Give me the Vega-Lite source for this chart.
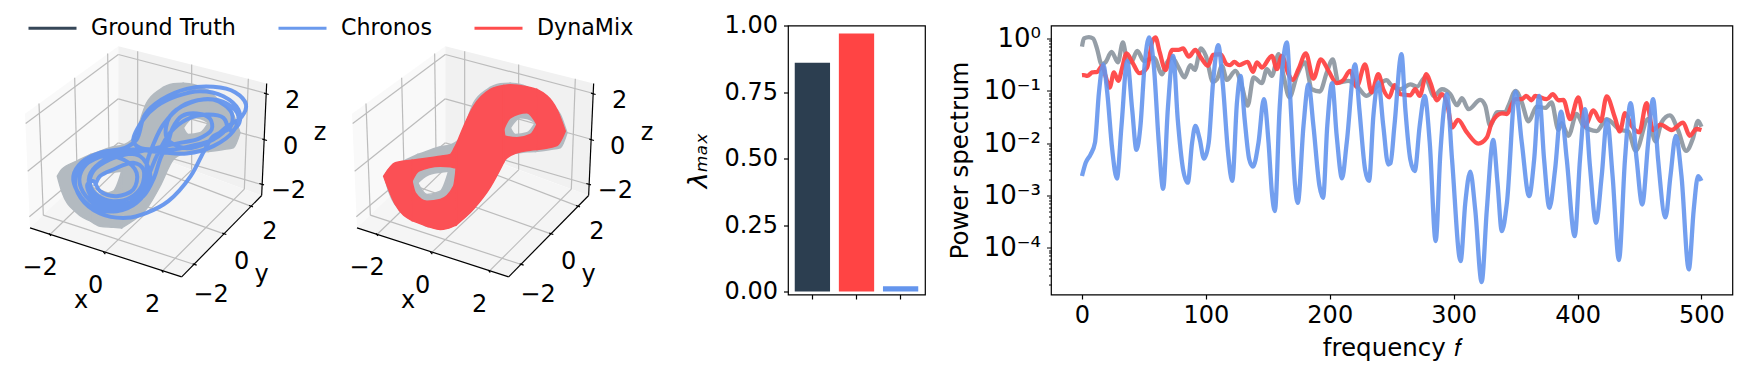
{"$schema":"https://vega.github.io/schema/vega-lite/v6.json","background":"white","padding":{"left":0,"top":2.5,"right":9,"bottom":5},"bounds":"flush","spacing":126,
"config":{"font":"DejaVu Sans","view":{"stroke":null},"axis":{"labelFont":"DejaVu Sans","titleFont":"DejaVu Sans","labelFontSize":24,"titleFontSize":24.5,"titleFontWeight":"normal","labelColor":"black","titleColor":"black","tickColor":"black","domainColor":"black","tickWidth":1.2,"domainWidth":1.2,"grid":false}},
"datasets":{
"panes":[{"pane":"left","u":75,"v":343,"v2":343},{"pane":"left","u":90,"v":332,"v2":685},{"pane":"left","u":355,"v":140,"v2":430},{"pane":"back","u":355,"v":140,"v2":430},{"pane":"back","u":785,"v":248,"v2":588},{"pane":"back","u":800,"v":252,"v2":252},{"pane":"floor","u":90,"v":685,"v2":685},{"pane":"floor","u":355,"v":430,"v2":771},{"pane":"floor","u":545,"v":500,"v2":832},{"pane":"floor","u":785,"v":588,"v2":588}],
"grid":[{"id":"a","u":355,"v":165},{"id":"a","u":800,"v":282},{"id":"b","u":355,"v":298},{"id":"b","u":795,"v":420},{"id":"c","u":355,"v":430},{"id":"c","u":785,"v":555},{"id":"d","u":355,"v":165},{"id":"d","u":77,"v":372},{"id":"e","u":355,"v":298},{"id":"e","u":83,"v":515},{"id":"f","u":355,"v":430},{"id":"f","u":88,"v":652},{"id":"g","u":117,"v":312},{"id":"g","u":130,"v":647},{"id":"h","u":224,"v":235},{"id":"h","u":232,"v":548},{"id":"i","u":323,"v":162},{"id":"i","u":327,"v":457},{"id":"j","u":413,"v":155},{"id":"j","u":413,"v":451},{"id":"k","u":575,"v":195},{"id":"k","u":575,"v":511},{"id":"l","u":745,"v":238},{"id":"l","u":733,"v":569},{"id":"m","u":413,"v":451},{"id":"m","u":150,"v":705},{"id":"n","u":575,"v":511},{"id":"n","u":313,"v":760},{"id":"o","u":733,"v":569},{"id":"o","u":487,"v":815},{"id":"p","u":130,"v":647},{"id":"p","u":583,"v":795},{"id":"q","u":232,"v":548},{"id":"q","u":672,"v":703},{"id":"r","u":327,"v":457},{"id":"r","u":752,"v":620}],
"edges":[{"id":"x","u":90,"v":685},{"id":"x","u":545,"v":832},{"id":"y","u":545,"v":832},{"id":"y","u":785,"v":588},{"id":"z","u":800,"v":252},{"id":"z","u":785,"v":588},{"id":"t1","u":147,"v":702},{"id":"t1","u":153,"v":709},{"id":"t2","u":310,"v":757},{"id":"t2","u":316,"v":764},{"id":"t3","u":484,"v":812},{"id":"t3","u":490,"v":819},{"id":"t4","u":578,"v":793},{"id":"t4","u":590,"v":797},{"id":"t5","u":667,"v":701},{"id":"t5","u":679,"v":705},{"id":"t6","u":747,"v":618},{"id":"t6","u":759,"v":622},{"id":"t7","u":792,"v":281},{"id":"t7","u":806,"v":285},{"id":"t8","u":787,"v":419},{"id":"t8","u":801,"v":423},{"id":"t9","u":778,"v":552},{"id":"t9","u":792,"v":556}],
"labels":[{"u":120,"v":805,"text":"−2"},{"u":287,"v":860,"text":"0"},{"u":458,"v":917,"text":"2"},{"u":243,"v":905,"text":"x"},{"u":633,"v":885,"text":"−2"},{"u":725,"v":787,"text":"0"},{"u":810,"v":698,"text":"2"},{"u":785,"v":825,"text":"y"},{"u":865,"v":575,"text":"−2"},{"u":872,"v":443,"text":"0"},{"u":878,"v":305,"text":"2"},{"u":960,"v":400,"text":"z"}],
"attractor":[{"p":"a","u":172,"v":530,"v2":530},{"p":"a","u":185,"v":510,"v2":575},{"p":"a","u":230,"v":485,"v2":640},{"p":"a","u":272,"v":465,"v2":665},{"p":"b","u":272,"v":465,"v2":550},{"p":"b","u":300,"v":455,"v2":528},{"p":"b","u":340,"v":442,"v2":518},{"p":"b","u":365,"v":438,"v2":515},{"p":"c","u":272,"v":550,"v2":665},{"p":"c","u":300,"v":585,"v2":680},{"p":"c","u":340,"v":575,"v2":683},{"p":"c","u":365,"v":515,"v2":685},{"p":"d","u":365,"v":438,"v2":685},{"p":"d","u":400,"v":415,"v2":663},{"p":"d","u":440,"v":310,"v2":627},{"p":"d","u":480,"v":270,"v2":560},{"p":"d","u":520,"v":253,"v2":480},{"p":"d","u":550,"v":251,"v2":463},{"p":"e","u":550,"v":251,"v2":385},{"p":"e","u":580,"v":255,"v2":355},{"p":"e","u":600,"v":262,"v2":357},{"p":"e","u":625,"v":273,"v2":370},{"p":"f","u":550,"v":385,"v2":463},{"p":"f","u":565,"v":405,"v2":461},{"p":"f","u":600,"v":400,"v2":457},{"p":"f","u":625,"v":370,"v2":456},{"p":"g","u":625,"v":273,"v2":456},{"p":"g","u":670,"v":315,"v2":450},{"p":"g","u":700,"v":345,"v2":445},{"p":"g","u":720,"v":400,"v2":400}],
"dynamix3d":[{"p":"a","u":170,"v":530,"v2":530},{"p":"a","u":205,"v":490,"v2":615},{"p":"a","u":255,"v":482,"v2":663},{"p":"b","u":255,"v":482,"v2":545},{"p":"b","u":275,"v":479,"v2":515},{"p":"b","u":340,"v":470,"v2":500},{"p":"b","u":370,"v":465,"v2":502},{"p":"b","u":385,"v":440,"v2":505},{"p":"b","u":388,"v":435,"v2":505},{"p":"c","u":255,"v":545,"v2":663},{"p":"c","u":265,"v":580,"v2":667},{"p":"c","u":300,"v":605,"v2":680},{"p":"c","u":340,"v":600,"v2":690},{"p":"c","u":380,"v":560,"v2":680},{"p":"c","u":388,"v":505,"v2":676},{"p":"d","u":388,"v":435,"v2":676},{"p":"d","u":440,"v":320,"v2":628},{"p":"d","u":490,"v":270,"v2":563},{"p":"d","u":530,"v":258,"v2":489},{"p":"e","u":530,"v":258,"v2":390},{"p":"e","u":550,"v":256,"v2":355},{"p":"e","u":600,"v":262,"v2":340},{"p":"e","u":630,"v":270,"v2":375},{"p":"f","u":530,"v":390,"v2":489},{"p":"f","u":535,"v":410,"v2":480},{"p":"f","u":570,"v":415,"v2":460},{"p":"f","u":610,"v":405,"v2":452},{"p":"f","u":630,"v":375,"v2":450},{"p":"g","u":630,"v":270,"v2":450},{"p":"g","u":690,"v":330,"v2":438},{"p":"g","u":715,"v":395,"v2":395}],
"chronos3d":[{"t":1,"u":285,"v":560},{"t":2,"u":300,"v":530},{"t":3,"u":340,"v":510},{"t":4,"u":400,"v":490},{"t":5,"u":430,"v":510},{"t":6,"u":425,"v":560},{"t":7,"u":390,"v":595},{"t":8,"u":340,"v":605},{"t":9,"u":295,"v":590},{"t":10,"u":270,"v":555},{"t":11,"u":280,"v":515},{"t":12,"u":330,"v":480},{"t":13,"u":400,"v":460},{"t":14,"u":470,"v":445},{"t":15,"u":540,"v":430},{"t":16,"u":595,"v":418},{"t":17,"u":635,"v":390},{"t":18,"u":630,"v":358},{"t":19,"u":590,"v":342},{"t":20,"u":545,"v":350},{"t":21,"u":518,"v":385},{"t":22,"u":505,"v":425},{"t":23,"u":480,"v":480},{"t":24,"u":462,"v":535},{"t":25,"u":430,"v":590},{"t":26,"u":370,"v":625},{"t":27,"u":310,"v":625},{"t":28,"u":258,"v":590},{"t":29,"u":238,"v":540},{"t":30,"u":258,"v":495},{"t":31,"u":320,"v":465},{"t":32,"u":400,"v":450},{"t":33,"u":480,"v":458},{"t":34,"u":560,"v":462},{"t":35,"u":640,"v":440},{"t":36,"u":700,"v":395},{"t":37,"u":715,"v":350},{"t":38,"u":680,"v":312},{"t":39,"u":610,"v":300},{"t":40,"u":545,"v":320},{"t":41,"u":490,"v":375},{"t":42,"u":462,"v":430},{"t":43,"u":440,"v":495},{"t":44,"u":445,"v":555},{"t":45,"u":410,"v":610},{"t":46,"u":350,"v":635},{"t":47,"u":280,"v":625},{"t":48,"u":232,"v":575},{"t":49,"u":220,"v":530},{"t":50,"u":245,"v":488},{"t":51,"u":305,"v":458},{"t":52,"u":375,"v":445},{"t":53,"u":410,"v":420},{"t":54,"u":435,"v":345},{"t":55,"u":485,"v":300},{"t":56,"u":560,"v":268},{"t":57,"u":640,"v":262},{"t":58,"u":705,"v":278},{"t":59,"u":738,"v":315},{"t":60,"u":725,"v":352},{"t":61,"u":680,"v":382},{"t":62,"u":620,"v":430},{"t":63,"u":550,"v":445},{"t":64,"u":500,"v":415},{"t":65,"u":510,"v":350},{"t":66,"u":570,"v":310},{"t":67,"u":640,"v":300},{"t":68,"u":695,"v":340},{"t":69,"u":690,"v":385},{"t":70,"u":640,"v":410},{"t":71,"u":612,"v":455},{"t":72,"u":572,"v":530},{"t":73,"u":505,"v":605},{"t":74,"u":440,"v":640},{"t":75,"u":380,"v":655},{"t":76,"u":300,"v":642},{"t":77,"u":242,"v":595},{"t":78,"u":225,"v":540},{"t":79,"u":250,"v":495},{"t":80,"u":310,"v":470},{"t":81,"u":370,"v":480},{"t":82,"u":410,"v":520},{"t":83,"u":400,"v":570},{"t":84,"u":350,"v":590},{"t":85,"u":300,"v":575},{"t":86,"u":280,"v":545},{"t":87,"u":262,"v":555},{"t":88,"u":280,"v":600},{"t":89,"u":330,"v":622},{"t":90,"u":395,"v":610},{"t":91,"u":440,"v":570},{"t":92,"u":450,"v":520},{"t":93,"u":420,"v":470},{"t":94,"u":360,"v":465},{"t":95,"u":300,"v":490},{"t":96,"u":268,"v":530},{"t":97,"u":275,"v":575},{"t":98,"u":320,"v":612},{"t":99,"u":380,"v":612},{"t":100,"u":420,"v":585},{"t":101,"u":445,"v":530},{"t":102,"u":470,"v":470},{"t":103,"u":510,"v":400},{"t":104,"u":560,"v":360},{"t":105,"u":620,"v":345},{"t":106,"u":670,"v":355},{"t":107,"u":680,"v":385},{"t":108,"u":640,"v":420},{"t":109,"u":570,"v":440},{"t":110,"u":520,"v":450},{"t":111,"u":470,"v":450},{"t":112,"u":420,"v":445},{"t":113,"u":400,"v":425},{"t":114,"u":430,"v":360},{"t":115,"u":470,"v":320},{"t":116,"u":530,"v":290},{"t":117,"u":600,"v":275},{"t":118,"u":670,"v":290},{"t":119,"u":715,"v":330},{"t":120,"u":718,"v":370},{"t":121,"u":690,"v":400}],
"gt":[{"f":0,"P":0.7},{"f":1.6,"P":1},{"f":5.6,"P":1.06},{"f":9,"P":1},{"f":12.3,"P":0.62},{"f":15.8,"P":0.32},{"f":19,"P":0.35},{"f":23.9,"P":0.556},{"f":29,"P":0.35},{"f":33,"P":0.84},{"f":36,"P":0.43},{"f":39.7,"P":0.35},{"f":44.6,"P":0.58},{"f":50,"P":0.37},{"f":58,"P":0.43},{"f":64.7,"P":0.207},{"f":68.7,"P":0.35},{"f":72.8,"P":0.43},{"f":78,"P":0.278},{"f":82.7,"P":0.18},{"f":87.5,"P":0.309},{"f":91,"P":0.25},{"f":96,"P":0.644},{"f":100,"P":0.466},{"f":105.8,"P":0.148},{"f":109,"P":0.166},{"f":113,"P":0.3},{"f":117,"P":0.161},{"f":123.8,"P":0.24},{"f":129,"P":0.124},{"f":133.7,"P":0.052},{"f":138.5,"P":0.18},{"f":145.2,"P":0.14},{"f":149.3,"P":0.26},{"f":153.3,"P":0.193},{"f":158.7,"P":0.5},{"f":162.7,"P":0.193},{"f":167.5,"P":0.075},{"f":173.4,"P":0.193},{"f":180,"P":0.35},{"f":185.5,"P":0.107},{"f":192,"P":0.097},{"f":197.6,"P":0.224},{"f":202.4,"P":0.4},{"f":207,"P":0.144},{"f":215,"P":0.155},{"f":221.7,"P":0.124},{"f":229.8,"P":0.08},{"f":237.9,"P":0.12},{"f":246,"P":0.16},{"f":249,"P":0.133},{"f":257,"P":0.107},{"f":265,"P":0.133},{"f":270.5,"P":0.12},{"f":277,"P":0.18},{"f":284,"P":0.08},{"f":290.6,"P":0.107},{"f":297.3,"P":0.086},{"f":302.7,"P":0.053},{"f":306.7,"P":0.072},{"f":312,"P":0.0445},{"f":321.5,"P":0.067},{"f":325.5,"P":0.052},{"f":329.5,"P":0.0214},{"f":335,"P":0.039},{"f":341.6,"P":0.039},{"f":344.3,"P":0.052},{"f":350,"P":0.1},{"f":355,"P":0.06},{"f":360.4,"P":0.026},{"f":367,"P":0.05},{"f":374,"P":0.047},{"f":379,"P":0.06},{"f":384.6,"P":0.018},{"f":387.2,"P":0.024},{"f":392.6,"P":0.0138},{"f":399.3,"P":0.036},{"f":404.7,"P":0.0214},{"f":415.4,"P":0.017},{"f":423.5,"P":0.0286},{"f":434.2,"P":0.018},{"f":441,"P":0.0167},{"f":447,"P":0.0071},{"f":457,"P":0.029},{"f":463,"P":0.0107},{"f":467.8,"P":0.025},{"f":474.5,"P":0.034},{"f":481,"P":0.018},{"f":487.7,"P":0.0071},{"f":493,"P":0.012},{"f":497.3,"P":0.0267},{"f":500,"P":0.0205}],
"dynamix":[{"f":0,"P":0.199},{"f":1.6,"P":0.2},{"f":4.3,"P":0.193},{"f":8.3,"P":0.224},{"f":12.3,"P":0.23},{"f":16.4,"P":0.3},{"f":19,"P":0.193},{"f":22.3,"P":0.115},{"f":25.8,"P":0.224},{"f":29.3,"P":0.155},{"f":32.5,"P":0.278},{"f":36,"P":0.52},{"f":40.5,"P":0.358},{"f":46.4,"P":0.217},{"f":52.6,"P":0.278},{"f":56.6,"P":0.84},{"f":59.3,"P":1.05},{"f":62.8,"P":0.54},{"f":67.4,"P":0.25},{"f":72.8,"P":0.607},{"f":78,"P":0.607},{"f":81.6,"P":0.644},{"f":86.2,"P":0.45},{"f":91.5,"P":0.607},{"f":96,"P":0.43},{"f":101.7,"P":0.3},{"f":105.8,"P":0.486},{"f":111.7,"P":0.5},{"f":117,"P":0.32},{"f":119.7,"P":0.31},{"f":123,"P":0.358},{"f":127,"P":0.31},{"f":133.7,"P":0.358},{"f":138,"P":0.23},{"f":141.2,"P":0.35},{"f":145.2,"P":0.278},{"f":153.3,"P":0.466},{"f":157.3,"P":0.26},{"f":161.3,"P":0.466},{"f":166.7,"P":0.207},{"f":170.2,"P":0.161},{"f":174.8,"P":0.26},{"f":180.7,"P":0.52},{"f":186.8,"P":0.171},{"f":192.8,"P":0.4},{"f":199,"P":0.24},{"f":205.6,"P":0.14},{"f":211,"P":0.161},{"f":216.4,"P":0.24},{"f":221.7,"P":0.12},{"f":228.5,"P":0.32},{"f":233.8,"P":0.093},{"f":239.2,"P":0.207},{"f":243.2,"P":0.107},{"f":248,"P":0.075},{"f":252.2,"P":0.128},{"f":257,"P":0.086},{"f":265,"P":0.082},{"f":269,"P":0.107},{"f":272.6,"P":0.08},{"f":278,"P":0.207},{"f":281.2,"P":0.144},{"f":286.6,"P":0.066},{"f":290.6,"P":0.086},{"f":295.2,"P":0.05},{"f":298.7,"P":0.0199},{"f":303.5,"P":0.0278},{"f":310.7,"P":0.016},{"f":319.9,"P":0.0098},{"f":326.8,"P":0.0128},{"f":330.9,"P":0.025},{"f":339,"P":0.037},{"f":343,"P":0.036},{"f":349.7,"P":0.069},{"f":355,"P":0.069},{"f":358.5,"P":0.08},{"f":363,"P":0.066},{"f":365.8,"P":0.08},{"f":375.2,"P":0.069},{"f":380,"P":0.086},{"f":384.6,"P":0.066},{"f":388.6,"P":0.067},{"f":394,"P":0.0286},{"f":400.7,"P":0.075},{"f":406,"P":0.0214},{"f":412.8,"P":0.042},{"f":418.7,"P":0.0262},{"f":423.5,"P":0.078},{"f":430.2,"P":0.0305},{"f":434.2,"P":0.0167},{"f":438.3,"P":0.0372},{"f":443.6,"P":0.0214},{"f":449.8,"P":0.016},{"f":455.7,"P":0.058},{"f":461,"P":0.0178},{"f":467,"P":0.0226},{"f":475.8,"P":0.0178},{"f":485.2,"P":0.0246},{"f":490.6,"P":0.0138},{"f":496,"P":0.0186},{"f":500,"P":0.0178}],
"chronos":[{"f":0,"P":0.00234},{"f":3,"P":0.0042},{"f":7,"P":0.0061},{"f":10.5,"P":0.0102},{"f":13.7,"P":0.093},{"f":17.2,"P":0.32},{"f":20.4,"P":0.093},{"f":24.4,"P":0.0076},{"f":28.2,"P":0.0021},{"f":31.9,"P":0.0214},{"f":36.5,"P":0.37},{"f":40.5,"P":0.0445},{"f":44,"P":0.0074},{"f":47.2,"P":0.0214},{"f":50.5,"P":0.3},{"f":54.2,"P":1.05},{"f":58,"P":0.3},{"f":62,"P":0.0102},{"f":65.5,"P":0.00134},{"f":69.3,"P":0.0445},{"f":73.6,"P":0.466},{"f":77.3,"P":0.0286},{"f":81.6,"P":0.00316},{"f":85.4,"P":0.00175},{"f":88.9,"P":0.0102},{"f":91.5,"P":0.0214},{"f":95,"P":0.0119},{"f":98.5,"P":0.00505},{"f":102.3,"P":0.0102},{"f":105.8,"P":0.144},{"f":110,"P":0.746},{"f":113.8,"P":0.124},{"f":117.9,"P":0.0066},{"f":121.3,"P":0.00189},{"f":125.1,"P":0.06},{"f":128,"P":0.193},{"f":131.3,"P":0.0286},{"f":135,"P":0.0049},{"f":138,"P":0.00355},{"f":142.5,"P":0.0102},{"f":146.8,"P":0.069},{"f":150.6,"P":0.0102},{"f":153.3,"P":0.00113},{"f":155.7,"P":0.0005},{"f":159.5,"P":0.0445},{"f":165.4,"P":0.84},{"f":168.6,"P":0.0445},{"f":172,"P":0.00152},{"f":174.2,"P":0.00072},{"f":178.8,"P":0.0214},{"f":182.8,"P":0.133},{"f":186.8,"P":0.0214},{"f":191.7,"P":0.00152},{"f":194.6,"P":0.0009},{"f":198,"P":0.0214},{"f":201.9,"P":0.14},{"f":205.6,"P":0.0138},{"f":209.9,"P":0.00212},{"f":213.7,"P":0.0102},{"f":220.4,"P":0.32},{"f":223.9,"P":0.0445},{"f":228.5,"P":0.00316},{"f":231.7,"P":0.00189},{"f":235.2,"P":0.033},{"f":239.2,"P":0.144},{"f":243.2,"P":0.0214},{"f":247.2,"P":0.0039},{"f":249,"P":0.0041},{"f":252.2,"P":0.0214},{"f":257.9,"P":0.5},{"f":261,"P":0.0445},{"f":265,"P":0.0049},{"f":268.6,"P":0.00293},{"f":272.6,"P":0.0214},{"f":276.6,"P":0.08},{"f":280.7,"P":0.0102},{"f":285.5,"P":0.000134},{"f":289.3,"P":0.0066},{"f":294.6,"P":0.086},{"f":298.7,"P":0.0049},{"f":305.6,"P":0.0000556},{"f":309.4,"P":0.00072},{"f":313.4,"P":0.00284},{"f":317.4,"P":0.00054},{"f":322.6,"P":0.000022},{"f":326.8,"P":0.00054},{"f":331.9,"P":0.0115},{"f":335.4,"P":0.00175},{"f":338.9,"P":0.000207},{"f":343,"P":0.00072},{"f":349.9,"P":0.096},{"f":355,"P":0.0102},{"f":360.9,"P":0.00097},{"f":365,"P":0.0049},{"f":369,"P":0.08},{"f":373,"P":0.0049},{"f":377.3,"P":0.00058},{"f":381.9,"P":0.00316},{"f":386.7,"P":0.04},{"f":391.3,"P":0.0049},{"f":397.7,"P":0.000166},{"f":402,"P":0.0049},{"f":406,"P":0.0445},{"f":410,"P":0.00365},{"f":414.9,"P":0.0003},{"f":419.5,"P":0.00234},{"f":423.8,"P":0.0278},{"f":428.3,"P":0.00234},{"f":433.4,"P":0.000058},{"f":438.3,"P":0.0049},{"f":442.8,"P":0.058},{"f":447.7,"P":0.0049},{"f":452.2,"P":0.00067},{"f":457,"P":0.0102},{"f":461,"P":0.069},{"f":465,"P":0.0049},{"f":471,"P":0.00038},{"f":475,"P":0.00234},{"f":479.3,"P":0.0138},{"f":483.9,"P":0.00234},{"f":489.8,"P":0.0000385},{"f":493.8,"P":0.00054},{"f":497.3,"P":0.00234},{"f":500,"P":0.0019}]
},
"hconcat":[
{"width":201,"height":269,
"encoding":{"x":{"field":"u","type":"quantitative","axis":null,"scale":{"domain":[0,603],"nice":false,"zero":false}},"y":{"field":"v","type":"quantitative","axis":null,"scale":{"domain":[885,78],"nice":false,"zero":false}}},
"layer":[
{"data":{"name":"panes"},"mark":{"type":"area","clip":false},"encoding":{"y2":{"field":"v2"},"fill":{"field":"pane","legend":null,"scale":{"domain":["left","back","floor"],"range":["#f9f9f9","#f1f1f1","#f5f5f5"]}}}},
{"data":{"name":"grid"},"mark":{"type":"line","color":"#bcbcbc","strokeWidth":1.2},"encoding":{"detail":{"field":"id"}}},
{"data":{"name":"edges"},"mark":{"type":"line","color":"black","strokeWidth":1.2},"encoding":{"detail":{"field":"id"}}},
{"data":{"name":"attractor"},"mark":{"type":"area","interpolate":"monotone","color":"#b3bac0","stroke":"#b3bac0","strokeWidth":1.5},"encoding":{"y2":{"field":"v2"},"detail":{"field":"p"}}},
{"data":{"name":"chronos3d"},"mark":{"type":"line","interpolate":"catmull-rom","strokeWidth":4,"opacity":0.95},"encoding":{"order":{"field":"t"},"color":{"datum":"Chronos","type":"nominal","scale":{"domain":["Ground Truth","Chronos","DynaMix"],"range":["#2c3e50","#6495ed","#ff4444"]},"legend":{"title":null,"orient":"none","legendX":27,"legendY":-23,"direction":"horizontal","columns":3,"symbolType":"stroke","symbolSize":2304,"symbolStrokeWidth":3,"labelFont":"DejaVu Sans","labelFontSize":22.2,"labelColor":"black","labelOffset":13,"columnPadding":36}}}},
{"data":{"name":"labels"},"mark":{"type":"text","font":"DejaVu Sans","fontSize":24,"color":"black"},"encoding":{"text":{"field":"text"}}}
]},
{"width":334.3,"height":269,
"encoding":{"x":{"field":"u","type":"quantitative","axis":null,"scale":{"domain":[0,1003],"nice":false,"zero":false}},"y":{"field":"v","type":"quantitative","axis":null,"scale":{"domain":[885,78],"nice":false,"zero":false}}},
"layer":[
{"data":{"name":"panes"},"mark":{"type":"area"},"encoding":{"y2":{"field":"v2"},"fill":{"field":"pane","legend":null,"scale":{"domain":["left","back","floor"],"range":["#f9f9f9","#f1f1f1","#f5f5f5"]}}}},
{"data":{"name":"grid"},"mark":{"type":"line","color":"#bcbcbc","strokeWidth":1.2},"encoding":{"detail":{"field":"id"}}},
{"data":{"name":"edges"},"mark":{"type":"line","color":"black","strokeWidth":1.2},"encoding":{"detail":{"field":"id"}}},
{"data":{"name":"attractor"},"mark":{"type":"area","interpolate":"monotone","color":"#b3bac0","stroke":"#b3bac0","strokeWidth":1.5},"encoding":{"y2":{"field":"v2"},"detail":{"field":"p"}}},
{"data":{"name":"dynamix3d"},"mark":{"type":"area","interpolate":"monotone","color":"#fb5055","stroke":"#fb5055","strokeWidth":1.5},"encoding":{"y2":{"field":"v2"},"detail":{"field":"p"}}},
{"data":{"name":"labels"},"mark":{"type":"text","font":"DejaVu Sans","fontSize":24,"color":"black"},"encoding":{"text":{"field":"text"}}}
]},
{"width":137,"height":269,"view":{"stroke":"black","strokeWidth":1.2},
"data":{"values":[{"series":"Ground Truth","lambda_max":0.86},{"series":"DynaMix","lambda_max":0.97},{"series":"Chronos","lambda_max":0.02}]},
"mark":{"type":"bar"},
"encoding":{
"x":{"field":"series","type":"nominal","sort":["Ground Truth","DynaMix","Chronos"],"scale":{"paddingInner":0.2,"paddingOuter":0.153},"axis":{"title":null,"labels":false,"tickSize":4.5,"domain":false}},
"y":{"field":"lambda_max","type":"quantitative","scale":{"domain":[-0.011,1],"nice":false,"zero":false},"axis":{"title":"λₘₐₓ","titleFontSize":27,"titleFontStyle":"italic","values":[0,0.25,0.5,0.75,1],"format":".2f","tickSize":4.5,"labelPadding":6,"titlePadding":12,"domain":false}},
"color":{"field":"series","type":"nominal","legend":null}}},
{"width":681.4,"height":269,"view":{"stroke":"black","strokeWidth":1.2},
"encoding":{"x":{"field":"f","type":"quantitative","title":"frequency 𝑓","scale":{"domain":[-25,525],"nice":false,"zero":false},"axis":{"values":[0,100,200,300,400,500],"tickSize":4.5,"labelPadding":4,"titlePadding":9,"domain":false}},
"y":{"field":"P","type":"quantitative","title":"Power spectrum","scale":{"type":"log","domain":[0.00001276,1.77],"nice":false},"axis":{"values":[1,0.9,0.8,0.7,0.6,0.5,0.4,0.3,0.2,0.1,0.09,0.08,0.07,0.06,0.05,0.04,0.03,0.02,0.01,0.009,0.008,0.007,0.006,0.005,0.004,0.003,0.002,0.001,0.0009,0.0008,0.0007,0.0006,0.0005,0.0004,0.0003,0.0002,0.0001,0.00009,0.00008,0.00007,0.00006,0.00005,0.00004,0.00003,0.00002],"labelExpr":"datum.value==1?'10⁰':datum.value==0.1?'10⁻¹':datum.value==0.01?'10⁻²':datum.value==0.001?'10⁻³':datum.value==0.0001?'10⁻⁴':''","labelOverlap":false,"labelFontSize":26,"tickSize":{"condition":{"test":"indexof([1,0.1,0.01,0.001,0.0001],datum.value)>=0","value":4.5},"value":2.5},"tickWidth":1,"labelPadding":6,"titlePadding":11,"domain":false}}},
"layer":[
{"data":{"name":"gt"},"mark":{"type":"line","interpolate":"monotone","strokeWidth":4.3,"opacity":0.5},"encoding":{"color":{"datum":"Ground Truth","type":"nominal","legend":null}}},
{"data":{"name":"dynamix"},"mark":{"type":"line","interpolate":"monotone","strokeWidth":4.3,"opacity":0.95},"encoding":{"color":{"datum":"DynaMix","type":"nominal","legend":null}}},
{"data":{"name":"chronos"},"mark":{"type":"line","interpolate":"monotone","strokeWidth":4.3,"opacity":0.9},"encoding":{"color":{"datum":"Chronos","type":"nominal","legend":null}}}
]}
]}
